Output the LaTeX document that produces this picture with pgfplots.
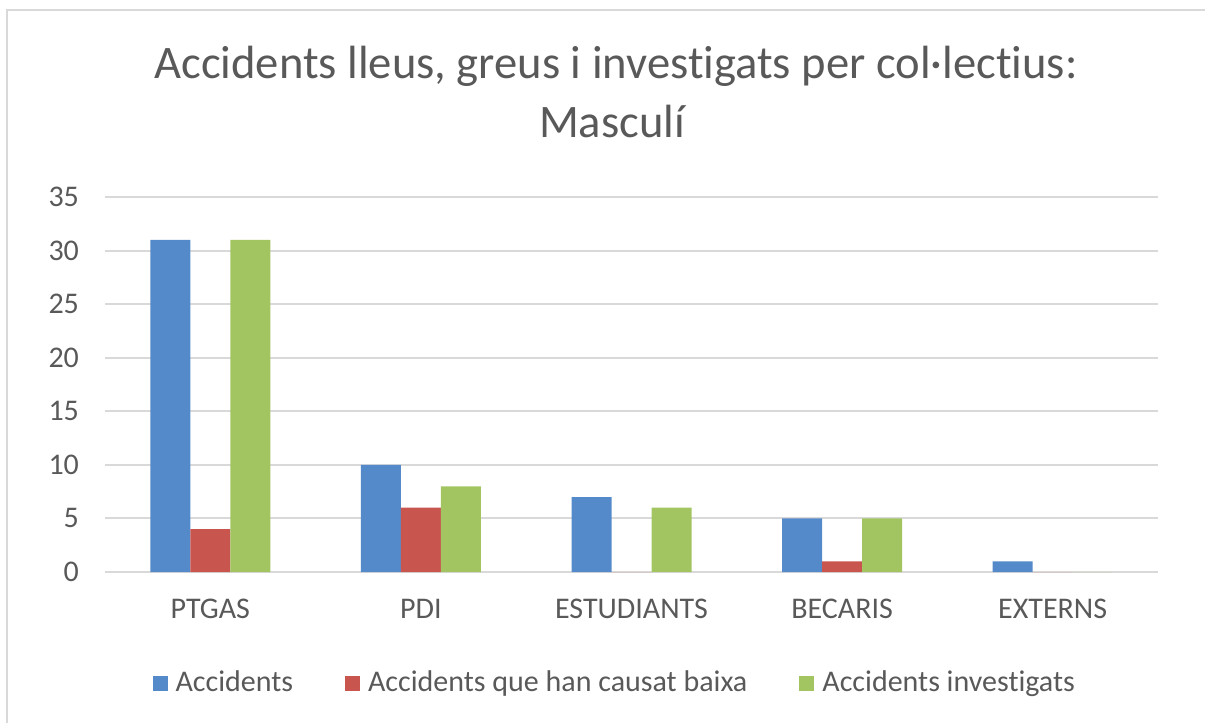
\documentclass[border=0pt]{standalone}
\usepackage{fontspec}
\setmainfont{Carlito}[Ligatures={NoCommon,NoContextual}]
\usepackage{pgfplots}
\pgfplotsset{compat=1.18}

\definecolor{cblue}{HTML}{558ACA}
\definecolor{cred}{HTML}{C9554F}
\definecolor{cgreen}{HTML}{A2C562}
\definecolor{ctext}{HTML}{595959}
\definecolor{cgrid}{HTML}{D9D9D9}

\begin{document}
\begin{tikzpicture}[x=0.5pt,y=0.5pt]
% canvas in pixels of the reference, y upwards
\path[use as bounding box] (0,0) rectangle (1205,723);
\draw[cgrid, line width=1pt] (7,0) -- (7,713) -- (1205,713);

\node[anchor=base, text=ctext, font=\fontsize{23.3}{28}\selectfont] at (616,644)
  {Accidents lleus, greus i investigats per col·lectius:};
\node[anchor=base, text=ctext, font=\fontsize{23.3}{28}\selectfont] at (612,585)
  {Masculí};

\begin{axis}[
  at={(52.5pt,75.5pt)}, anchor=south west,
  scale only axis, width=526.5pt, height=187.5pt,
  ybar=0pt, bar width=20pt,
  xmin=-0.5, xmax=4.5, ymin=0, ymax=35,
  xtick=data,
  xticklabels={PTGAS,PDI,ESTUDIANTS,BECARIS,EXTERNS},
  ytick={0,5,...,35},
  ymajorgrids, major grid style={cgrid, line width=1pt},
  axis line style={draw=none},
  major tick length=0pt,
  tick label style={text=ctext, font=\fontsize{15}{18}\selectfont},
  /pgf/number format/assume math mode=true,
  yticklabel style={xshift=-9.5pt},
  xticklabel style={yshift=-10pt},
  legend columns=3,
  legend style={draw=none, fill=none, at={(0.485,-0.296)}, anchor=center,
    font=\fontsize{15}{18}\selectfont, text=ctext,
    /tikz/every odd column/.append style={column sep=2pt},
    /tikz/every even column/.append style={column sep=24pt}},
  legend image code/.code={\fill[#1] (0pt,-3.75pt) rectangle (7.5pt,3.75pt);},
]
\addplot[fill=cblue, draw=none] coordinates {(0,31) (1,10) (2,7) (3,5) (4,1)};
\addplot[fill=cred, draw=none] coordinates {(0,4) (1,6) (2,0) (3,1) (4,0)};
\addplot[fill=cgreen, draw=none] coordinates {(0,31) (1,8) (2,6) (3,5) (4,0)};
\legend{Accidents, Accidents que han causat baixa, Accidents investigats}
\end{axis}
\end{tikzpicture}
\end{document}
